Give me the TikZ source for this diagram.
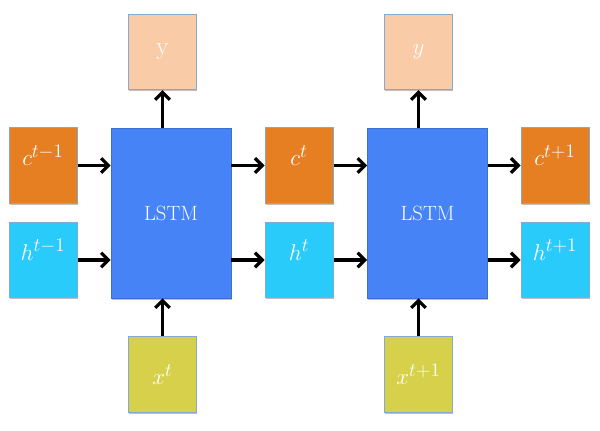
\documentclass[tikz,border=0pt]{standalone}
\usetikzlibrary{arrows.meta,shadows}

\definecolor{cellblue}{HTML}{4583F7}
\definecolor{cellorange}{HTML}{E67E22}
\definecolor{hiddencyan}{HTML}{29CBFB}
\definecolor{inputolive}{HTML}{D7D04B}
\definecolor{outpeach}{HTML}{F9CBA6}
\definecolor{edgeblue}{HTML}{86A9D2}

\tikzset{every picture/.style={line width=0.75pt}}
\tikzset{
  gate/.style={draw=edgeblue, line width=0.75pt, text=white, minimum width=51pt, minimum height=56.5pt,
    font=\fontsize{19}{22}\selectfont, inner sep=0pt,
    drop shadow={shadow xshift=0.6pt, shadow yshift=-1.2pt, opacity=0.25, fill=black}},
  lstmbox/.style={fill=cellblue, draw=cellblue!85!black, line width=0.4pt, text=white, minimum width=90pt, minimum height=127.5pt,
    font=\fontsize{15.5}{18}\selectfont, inner sep=0pt,
    drop shadow={shadow xshift=0.6pt, shadow yshift=-1.2pt, opacity=0.25, fill=black}},
  cellstate/.style={gate, fill=cellorange, text height=13pt, text depth=13pt},
  hidstate/.style={gate, fill=hiddencyan, text height=13pt, text depth=13pt},
  inbox/.style={gate, fill=inputolive},
  outbox/.style={gate, fill=outpeach},
  flow/.style={line width=2.4pt, -{Straight Barb[length=5.5pt,width=11pt,line width=2.4pt]}}
}

\begin{document}
\begin{tikzpicture}[x=0.75pt,y=0.75pt,yscale=-1,xscale=1]
\useasboundingbox (0,0) rectangle (600,431);

%Shape: LSTM cells
\node [lstmbox] (lstm1) at (171,213) {LSTM};
\node [lstmbox] (lstm2) at (427.5,213) {LSTM};

%Shape: outputs
\node [outbox] (y1) at (162.5,52) {y};
\node [outbox] (y2) at (418.5,52) {$y$};

%Shape: cell states
\node [cellstate] (c0) at (43,165.5) {$c^{t-1}$};
\node [cellstate] (c1) at (299,165.5) {$c^{t}$};
\node [cellstate] (c2) at (555,165.5) {$c^{t+1}$};

%Shape: hidden states
\node [hidstate] (h0) at (43,260) {$h^{t-1}$};
\node [hidstate] (h1) at (299,260) {$h^{t}$};
\node [hidstate] (h2) at (555,260) {$h^{t+1}$};

%Shape: inputs
\node [inbox] (x1) at (162.5,374.5) {$x^{t}$};
\node [inbox] (x2) at (418.5,374.5) {$x^{t+1}$};

%Straight Lines
\draw [flow] (c0) -- (c0 -| lstm1.west);
\draw [flow] (h0) -- (h0 -| lstm1.west);
\draw [flow] (c0 -| lstm1.east) -- (c1);
\draw [flow] (h0 -| lstm1.east) -- (h1);
\draw [flow] (c1) -- (c1 -| lstm2.west);
\draw [flow] (h1) -- (h1 -| lstm2.west);
\draw [flow] (c2 -| lstm2.east) -- (c2);
\draw [flow] (h2 -| lstm2.east) -- (h2);
\draw [flow] (y1 |- lstm1.north) -- (y1);
\draw [flow] (y2 |- lstm2.north) -- (y2);
\draw [flow] (x1) -- (x1 |- lstm1.south);
\draw [flow] (x2) -- (x2 |- lstm2.south);

\end{tikzpicture}
\end{document}
